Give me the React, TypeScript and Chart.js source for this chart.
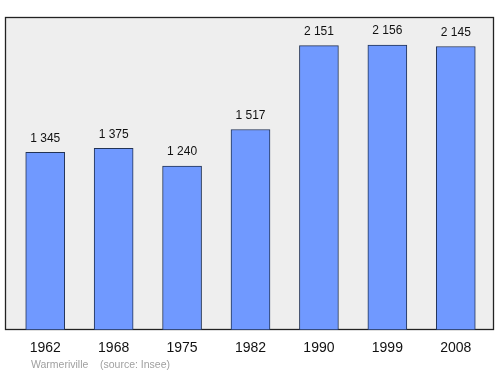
import React, { useEffect, useRef } from "react";
import { Chart, registerables } from "chart.js";

Chart.register(...registerables);

const years = ["1962", "1968", "1975", "1982", "1990", "1999", "2008"];
const population = [1345, 1375, 1240, 1517, 2151, 2156, 2145];
const valueLabels = ["1 345", "1 375", "1 240", "1 517", "2 151", "2 156", "2 145"];
const footerPlace = "Warmeriville";
const footerSource = "(source: Insee)";

const framePlugin = {
  id: "frame",
  beforeDraw(chart: any) {
    const { ctx, chartArea } = chart;
    const l = chartArea.left - 6;
    const r = chartArea.right + 4;
    const t = chartArea.top;
    const b = chartArea.bottom;
    ctx.save();
    ctx.fillStyle = "#eeeeee";
    ctx.fillRect(l, t, r - l, b - t);
    ctx.strokeStyle = "#222222";
    ctx.lineWidth = 1.3;
    ctx.strokeRect(l + 0.5, t + 0.5, r - l - 1, b - t - 1);
    ctx.restore();
  },
  afterDatasetsDraw(chart: any) {
    const { ctx, chartArea } = chart;
    const xs = chart.scales.x;
    const ys = chart.scales.y;
    ctx.save();
    ctx.fillStyle = "#111111";
    ctx.textAlign = "center";
    ctx.textBaseline = "middle";
    ctx.font = "12px 'Liberation Sans', Arial, sans-serif";
    population.forEach((v, i) => {
      const x = xs.getPixelForValue(i);
      const y = ys.getPixelForValue(v);
      ctx.fillText(valueLabels[i], x, y - 14);
    });
    ctx.font = "14px 'Liberation Sans', Arial, sans-serif";
    years.forEach((yr, i) => {
      ctx.fillText(yr, xs.getPixelForValue(i), chartArea.bottom + 18);
    });
    ctx.fillStyle = "#a0a0a0";
    ctx.textAlign = "left";
    ctx.font = "10.5px 'Liberation Sans', Arial, sans-serif";
    ctx.fillText(footerPlace, 31, chartArea.bottom + 35);
    ctx.fillText(footerSource, 100, chartArea.bottom + 35);
    ctx.restore();
  },
};

export default function App() {
  const ref = useRef<HTMLCanvasElement | null>(null);
  useEffect(() => {
    document.body.style.margin = "0";
    if (!ref.current) return;
    const chart = new Chart(ref.current, {
      type: "bar",
      data: {
        labels: years,
        datasets: [
          {
            data: population,
            backgroundColor: "#7099ff",
            borderColor: "#223355",
            borderWidth: 1,
            barThickness: 39,
            borderSkipped: false,
          },
        ],
      },
      options: {
        animation: false,
        responsive: false,
        maintainAspectRatio: false,
        layout: { padding: { left: 11, right: 10, top: 17, bottom: 44 } },
        plugins: { legend: { display: false }, tooltip: { enabled: false } },
        scales: {
          x: { display: false },
          y: { display: false, min: 0, max: 2368 },
        },
      },
      plugins: [framePlugin],
    });
    return () => chart.destroy();
  }, []);
  return <canvas ref={ref} width={500} height={374} style={{ display: "block" }} />;
}
